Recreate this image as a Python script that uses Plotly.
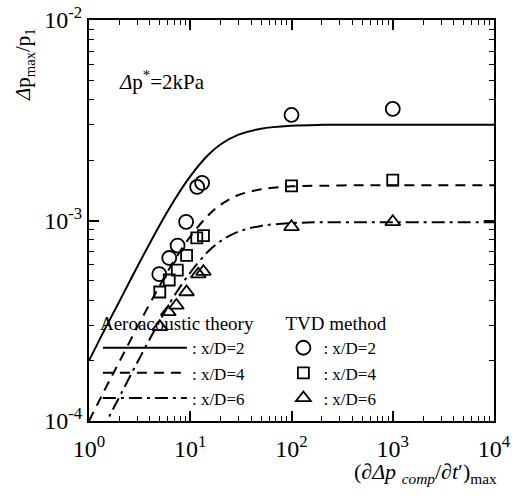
import plotly.graph_objects as go

# Theory curves
theory_x = [1, 1.5, 2, 3, 5, 7, 10, 15, 20, 30, 50, 100, 200, 500, 1000, 10000]
theory_xd2 = [2.0e-4, 3.0e-4, 3.96e-4, 5.88e-4, 9.5e-4, 1.27e-3, 1.66e-3, 2.12e-3, 2.40e-3,
              2.68e-3, 2.87e-3, 2.97e-3, 3.0e-3, 3.0e-3, 3.0e-3, 3.0e-3]
theory_xd4 = [1.0e-4, 1.5e-4, 1.98e-4, 2.94e-4, 4.74e-4, 6.35e-4, 8.3e-4, 1.06e-3, 1.20e-3,
              1.34e-3, 1.43e-3, 1.48e-3, 1.49e-3, 1.5e-3, 1.5e-3, 1.5e-3]
theory_xd6 = [6.7e-5, 1.0e-4, 1.32e-4, 1.96e-4, 3.16e-4, 4.23e-4, 5.5e-4, 7.0e-4, 7.9e-4,
              8.8e-4, 9.4e-4, 9.7e-4, 9.8e-4, 9.8e-4, 9.8e-4, 9.8e-4]

# TVD method results
tvd_xd2_x = [11.7, 13.1, 9.1, 7.5, 6.2, 4.95, 100, 1000]
tvd_xd2_y = [1.47e-3, 1.54e-3, 9.85e-4, 7.5e-4, 6.5e-4, 5.4e-4, 3.36e-3, 3.6e-3]
tvd_xd4_x = [13.5, 11.6, 9.2, 7.45, 6.2, 5.0, 100, 1000]
tvd_xd4_y = [8.4e-4, 8.2e-4, 6.7e-4, 5.66e-4, 5.05e-4, 4.4e-4, 1.49e-3, 1.59e-3]
tvd_xd6_x = [13.5, 12.0, 9.2, 7.3, 6.07, 5.0, 100, 1000]
tvd_xd6_y = [5.56e-4, 5.4e-4, 4.4e-4, 3.77e-4, 3.5e-4, 2.95e-4, 9.3e-4, 9.85e-4]

x_tickvals = [1, 10, 100, 1000, 10000]
x_ticktext = ["10<sup>0</sup>", "10<sup>1</sup>", "10<sup>2</sup>", "10<sup>3</sup>", "10<sup>4</sup>"]
y_tickvals = [1e-4, 1e-3, 1e-2]
y_ticktext = ["10<sup>-4</sup>", "10<sup>-3</sup>", "10<sup>-2</sup>"]
x_minor = [m * 10.0 ** d for d in range(0, 4) for m in range(2, 10)]
y_minor = [m * 10.0 ** d for d in range(-4, -2) for m in range(2, 10)]

SERIF = "Liberation Serif, Times New Roman, serif"

fig = go.Figure()
line_styles = [("solid", theory_xd2), ("10px,7px", theory_xd4), ("13px,5px,3px,5px", theory_xd6)]
names = [": x/D=2", ": x/D=4", ": x/D=6"]
for (dash, ys), nm in zip(line_styles, names):
    fig.add_trace(go.Scatter(x=theory_x, y=ys, mode="lines", name=nm, legend="legend",
                             line=dict(color="black", width=2, dash=dash, shape="spline")))

for xs, ys, sym, sz, nm in [(tvd_xd2_x, tvd_xd2_y, "circle-open", 14, names[0]),
                            (tvd_xd4_x, tvd_xd4_y, "square-open", 11, names[1]),
                            (tvd_xd6_x, tvd_xd6_y, "triangle-up-open", 13, names[2])]:
    fig.add_trace(go.Scatter(x=xs, y=ys, mode="markers", name=nm, legend="legend2",
                             marker=dict(symbol=sym, size=sz, color="black",
                                         line=dict(color="black", width=1.8))))

# invisible traces that anchor the extra tick axes (minor ticks and top/right mirror)
for k in (2, 3, 4):
    fig.add_trace(go.Scatter(x=theory_x, y=theory_xd2, xaxis=f"x{k}", yaxis=f"y{k}", mode="lines",
                             line=dict(width=0), opacity=0, showlegend=False, hoverinfo="skip"))

base = dict(type="log", showgrid=False, zeroline=False, linecolor="black", linewidth=2,
            ticks="inside", tickcolor="black", automargin=False)
tickfont = dict(family=SERIF, size=24, color="black")

fig.update_layout(
    # bottom / left: major ticks with labels
    xaxis=dict(range=[0, 4], tickvals=x_tickvals, ticktext=x_ticktext, ticklen=10, tickwidth=1.5,
               showline=True, tickfont=tickfont, ticklabelstandoff=5, **base),
    yaxis=dict(range=[-4, -2], tickvals=y_tickvals, ticktext=y_ticktext, ticklen=10, tickwidth=1.5,
               showline=True, tickfont=tickfont, **base),
    # top / right: major ticks
    xaxis2=dict(range=[0, 4], tickvals=x_tickvals, overlaying="x", side="top", ticklen=10,
                tickwidth=1.5, showline=True, showticklabels=False, **base),
    yaxis2=dict(range=[-4, -2], tickvals=y_tickvals, overlaying="y", side="right", ticklen=10,
                tickwidth=1.5, showline=True, showticklabels=False, **base),
    # bottom / left: minor ticks
    xaxis3=dict(range=[0, 4], tickvals=x_minor, overlaying="x", side="bottom", ticklen=5,
                tickwidth=1.2, showline=False, showticklabels=False, **base),
    yaxis3=dict(range=[-4, -2], tickvals=y_minor, overlaying="y", side="left", ticklen=5,
                tickwidth=1.2, showline=False, showticklabels=False, **base),
    # top / right: minor ticks
    xaxis4=dict(range=[0, 4], tickvals=x_minor, overlaying="x", side="top", ticklen=5,
                tickwidth=1.2, showline=False, showticklabels=False, **base),
    yaxis4=dict(range=[-4, -2], tickvals=y_minor, overlaying="y", side="right", ticklen=5,
                tickwidth=1.2, showline=False, showticklabels=False, **base),
)

legend_common = dict(bgcolor="rgba(0,0,0,0)", font=dict(family=SERIF, size=17, color="black"),
                     yanchor="top", xanchor="left", tracegroupgap=0)
fig.update_layout(
    width=521, height=499,
    margin=dict(l=89, r=27, t=20, b=78, autoexpand=False),
    plot_bgcolor="white", paper_bgcolor="white",
    showlegend=True,
    legend=dict(x=0.022, y=0.288, title=dict(text="Aeroacoustic theory",
                font=dict(family=SERIF, size=19, color="black")), itemwidth=84, **legend_common),
    legend2=dict(x=0.48, y=0.288, title=dict(text="TVD method",
                 font=dict(family=SERIF, size=19, color="black")), **legend_common),
    annotations=[
        dict(xref="paper", yref="paper", x=-0.16, y=0.888, xanchor="center", yanchor="middle",
             text="<i>Δ</i>p<sub>max</sub>/p<sub>1</sub>",
             textangle=-90, showarrow=False, font=dict(family=SERIF, size=21, color="black")),
        dict(xref="paper", yref="paper", x=0.07, y=0.85, xanchor="left", yanchor="middle",
             text="<i>Δ</i>p<sup>*</sup>=2kPa", showarrow=False,
             font=dict(family=SERIF, size=21, color="black")),
        dict(xref="paper", yref="paper", x=0.83, y=-0.13, xanchor="center", yanchor="middle",
             text="(∂<i>Δp</i> <sub><i>comp</i></sub>/∂<i>t</i>′)<sub>max</sub>", showarrow=False,
             font=dict(family=SERIF, size=22, color="black")),
    ],
)

fig.write_html("out.html", config={"displayModeBar": False},
               post_script="document.body.style.margin='0';document.body.style.overflow='hidden';")
